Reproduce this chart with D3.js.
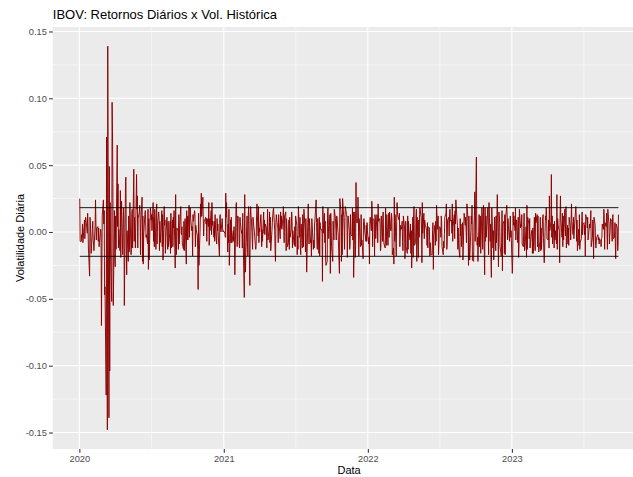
<!DOCTYPE html>
<html>
<head>
<meta charset="utf-8">
<script src="https://cdn.jsdelivr.net/npm/d3@7"></script>
<style>
  html, body { margin: 0; padding: 0; background: #fff; overflow: hidden; }
  svg { display: block; font-family: "Liberation Sans", Arial, sans-serif; }
</style>
</head>
<body>
<svg id="chart" width="633" height="477"></svg>
<script>
// IBOV daily returns, one value per weekday, grouped by calendar year
const ret2020 = [
  0.025,-0.007,
  -0.007,-0.002,-0.004,0.006,-0.008,
  0.004,0.009,-0.005,0.007,0.011,
  0.003,-0.001,0.014,0.006,-0.012,
  -0.033,0.011,0.007,-0.004,-0.016,
  0.002,0.008,-0.006,-0.009,-0.014,
  0.005,0.024,0.006,-0.006,0.003,
  0.004,-0.007,0.003,-0.011,-0.008,
  0.002,-0.001,-0.070,-0.026,0.012,
  0.024,0.006,0.016,-0.047,-0.041,
  -0.122,0.071,-0.076,-0.148,0.139,
  -0.139,0.049,-0.104,0.022,-0.012,
  -0.052,0.097,0.075,0.037,-0.055,
  0.016,-0.022,-0.026,0.012,-0.013,
  0.065,0.004,0.036,-0.012,0.002,
  -0.014,0.031,-0.019,0.006,0.023,
  -0.017,0.001,0.018,0.010,-0.055,
  0.038,0.041,-0.012,-0.032,0.001,
  -0.022,0.012,-0.015,-0.013,0.022,
  -0.017,-0.013,0.013,0.017,-0.012,
  0.047,-0.007,0.011,0.002,-0.012,
  0.043,0.017,0.027,-0.012,0.010,
  0.015,0.020,0.010,-0.017,0.008,
  0.026,-0.022,0.012,-0.024,-0.003,
  0.013,0.016,0.009,-0.004,-0.002,
  -0.009,0.017,-0.028,0.010,-0.021,
  0.018,0.015,0.009,0.013,0.001,
  0.022,-0.007,0.011,-0.011,0.017,
  -0.013,0.014,0.021,-0.009,0.005,
  0.015,0.011,-0.014,0.008,-0.008,
  0.007,0.016,-0.011,0.013,-0.021,
  0.019,0.005,0.009,-0.016,-0.004,
  0.011,-0.009,-0.013,0.008,-0.011,
  -0.001,0.008,-0.016,0.014,-0.012,
  0.009,-0.011,0.011,0.003,0.016,
  -0.027,0.028,-0.011,-0.017,0.003,
  0.001,-0.013,0.013,-0.009,0.003,
  0.019,-0.001,-0.002,0.004,-0.009,
  -0.013,0.008,-0.014,-0.002,0.010,
  -0.024,0.016,-0.006,0.012,-0.006,
  0.020,-0.004,0.009,0.018,0.010,
  0.001,0.004,-0.018,0.013,0.008,
  0.016,0.013,-0.011,0.005,0.002,
  -0.003,-0.014,-0.043,0.014,-0.025,
  0.002,0.021,0.011,0.029,0.012,
  0.026,0.010,-0.003,0.007,0.008,
  0.011,0.006,0.010,-0.007,0.010,
  0.004,0.022,-0.010,0.010,0.001,
  0.016,-0.002,0.022,0.005,0.008,
  -0.004,0.008,-0.007,0.013,0.002,
  -0.009,0.010,0.001,0.006,-0.003,
  -0.018,0.012,0.013,0.001,0.000,
  0.010,0.003,0.000,0.001
];

const ret2021 = [
  -0.001,-0.004,0.029,0.011,0.022,
  -0.015,0.006,-0.008,0.017,-0.025,
  0.009,-0.008,0.011,-0.008,-0.008,
  0.001,-0.007,0.004,-0.009,-0.032,
  0.020,0.022,0.006,-0.011,0.012,
  0.010,-0.009,-0.012,0.011,0.007,
  -0.001,0.001,-0.012,0.014,-0.006,
  -0.049,0.028,-0.011,-0.030,-0.015,
  0.012,-0.008,-0.018,0.012,0.019,
  -0.040,0.011,0.019,0.012,0.009,
  -0.013,0.011,0.008,0.004,0.002,
  -0.010,-0.013,-0.010,0.012,0.021,
  -0.003,0.019,-0.008,0.003,0.000,
  0.013,0.006,-0.011,0.002,-0.007,
  0.015,-0.001,0.009,-0.002,0.006,
  0.003,-0.012,0.001,0.017,-0.006,
  0.002,0.015,-0.008,0.011,-0.014,
  0.001,0.007,0.012,0.016,0.018,
  0.001,-0.013,-0.022,0.007,0.013,
  0.004,0.003,-0.008,0.013,0.007,
  -0.005,0.015,0.003,0.012,0.002,
  0.011,0.019,0.001,-0.008,0.012,
  0.015,-0.014,0.010,0.004,-0.011,
  -0.008,0.009,-0.013,0.011,-0.004,
  0.002,0.015,0.008,-0.012,0.001,
  -0.009,-0.010,0.004,-0.011,0.012,
  0.005,-0.017,-0.003,-0.013,0.019,
  -0.004,0.011,-0.012,-0.017,0.006,
  -0.012,0.013,0.006,-0.011,0.017,
  0.002,-0.015,0.010,-0.008,-0.030,
  0.009,0.021,0.004,-0.009,0.010,
  -0.008,-0.006,-0.018,0.010,0.005,
  -0.013,-0.006,-0.012,0.006,0.009,
  0.024,0.007,-0.008,-0.013,0.010,
  -0.016,0.011,-0.018,0.007,0.002,
  0.002,-0.001,-0.037,0.019,-0.001,
  0.014,-0.008,0.008,-0.021,-0.025,
  -0.022,0.015,0.018,0.005,-0.005,
  0.013,-0.031,0.014,0.006,-0.011,
  -0.022,0.008,0.001,-0.006,0.017,
  0.010,0.002,-0.006,0.012,0.011,
  -0.003,-0.014,-0.022,-0.031,0.025,
  0.015,-0.022,0.013,-0.017,0.025,
  0.011,0.001,-0.013,0.011,0.019,
  0.013,0.011,-0.019,0.002,0.012,
  0.001,-0.013,-0.010,0.013,-0.002,
  -0.003,0.018,-0.006,0.015,-0.034,
  0.015,-0.019,-0.011,0.037,0.007,
  0.007,0.026,0.012,-0.018,0.010,
  -0.011,-0.009,0.013,-0.010,-0.006,
  -0.020,0.006,0.010,0.008,0.001,
  -0.007,0.005,-0.007,0.007,0.001
];

const ret2022 = [
  -0.009,-0.004,-0.024,0.006,0.011,
  0.001,0.023,0.017,-0.011,0.010,
  0.009,-0.018,0.013,0.011,-0.005,
  0.013,0.011,-0.008,0.021,0.008,
  0.010,0.006,-0.014,-0.011,0.012,
  -0.007,0.013,0.015,-0.006,-0.009,
  -0.012,0.018,-0.008,-0.010,0.013,
  -0.010,0.003,0.014,-0.004,0.015,
  0.001,0.001,0.014,0.010,-0.017,
  -0.012,-0.024,0.026,-0.007,0.013,
  -0.018,0.008,0.022,0.015,0.012,
  0.009,0.014,-0.011,-0.003,0.005,
  0.002,0.008,-0.007,-0.014,0.012,
  0.003,-0.020,-0.012,0.008,-0.011,
  -0.016,0.012,-0.013,0.008,0.001,
  -0.006,0.006,-0.016,0.001,-0.027,
  0.011,-0.019,0.014,0.019,-0.010,
  -0.008,0.012,0.017,-0.022,0.011,
  -0.019,0.009,-0.004,0.013,0.018,
  0.011,0.002,-0.023,0.022,-0.001,
  0.014,-0.005,0.009,0.006,0.005,
  0.001,-0.010,0.007,-0.012,0.004,
  0.003,-0.018,-0.008,-0.012,-0.017,
  -0.017,0.001,0.007,-0.028,-0.003,
  0.005,-0.010,0.008,-0.007,0.020,
  0.002,0.012,-0.017,-0.011,0.004,
  0.003,-0.004,0.012,0.008,-0.011,
  -0.017,-0.007,-0.012,-0.002,0.011,
  0.014,0.021,-0.013,-0.009,0.009,
  0.011,-0.003,0.012,0.017,0.008,
  0.009,-0.001,0.021,-0.007,0.004,
  0.013,-0.005,0.016,0.006,0.024,
  0.009,0.005,-0.013,0.003,-0.010,
  -0.019,0.010,-0.003,0.006,-0.011,
  0.007,-0.021,-0.010,0.004,0.014,
  0.005,0.011,0.001,-0.008,0.021,
  0.008,-0.025,0.012,-0.008,-0.021,
  0.001,0.012,0.006,0.020,-0.021,
  -0.022,0.006,0.012,0.030,-0.007,
  0.056,0.001,-0.010,-0.004,-0.022,
  0.013,-0.011,0.001,0.012,-0.016,
  0.018,0.011,-0.013,0.008,0.020,
  -0.032,0.018,-0.007,0.012,-0.004,
  0.013,0.018,0.001,-0.017,0.022,
  -0.007,0.006,-0.021,-0.034,0.018,
  -0.012,0.001,-0.021,-0.006,0.011,
  -0.014,0.012,-0.008,0.013,0.028,
  -0.026,0.015,0.012,0.007,-0.011,
  -0.018,-0.008,0.016,-0.029,0.006,
  0.008,-0.016,0.013,-0.017,0.010,
  0.020,0.012,-0.006,0.010,0.005,
  -0.007,0.004,0.012,-0.004,0.001
];

const ret2023 = [
  -0.031,-0.021,0.015,0.005,0.012,
  0.001,0.018,-0.006,0.007,0.009,
  -0.008,0.011,-0.019,-0.010,0.017,
  0.003,0.006,0.004,0.013,-0.009,
  -0.011,0.004,0.014,-0.014,-0.012,
  0.004,-0.019,0.020,-0.013,0.011,
  0.006,-0.005,0.010,-0.012,-0.008,
  0.001,0.001,-0.016,0.003,-0.016,
  0.011,-0.008,-0.014,0.014,0.007,
  0.013,-0.011,0.012,-0.009,-0.015,
  -0.007,0.011,-0.014,0.003,-0.013,
  0.011,0.013,-0.004,-0.016,-0.023,
  0.012,0.009,0.018,0.011,-0.005,
  -0.006,0.009,-0.012,0.027,0.001,
  0.008,0.043,-0.004,0.012,-0.009,
  0.006,-0.012,0.008,-0.006,0.001,
  -0.009,0.028,-0.013,0.010,0.005,
  0.001,-0.023,0.010,0.027,0.009,
  -0.004,0.014,-0.011,0.012,-0.006,
  0.017,0.007,-0.003,0.019,-0.012,
  0.005,-0.009,0.003,-0.010,0.011,
  0.004,-0.006,0.009,0.021,0.008,
  -0.002,0.011,-0.005,0.001,0.006,
  0.019,0.012,-0.007,0.009,-0.014,
  0.002,-0.010,0.013,-0.013,-0.008,
  -0.005,0.008,0.015,-0.002,0.006,
  0.007,-0.002,0.005,-0.018,0.013,
  0.009,0.003,0.011,-0.006,-0.003,
  0.006,0.003,0.008,0.016,-0.011,
  -0.004,0.009,0.002,-0.020,0.011,
  0.005,-0.010,-0.012,-0.006,-0.004,
  -0.002,-0.006,-0.004,-0.009,-0.005,
  -0.007,-0.011,-0.005,-0.004,0.006,
  0.002,0.017,0.009,-0.013,0.007,
  0.004,0.014,-0.001,-0.013,0.017,
  0.006,-0.009,-0.003,0.001,0.010,
  0.008,-0.007,0.011,0.013,-0.005,
  -0.004,0.007,-0.008,-0.020,0.006,
  0.003,-0.014,-0.010,0.013
];

// first weekday of each yearly block
const yearStarts = ["2020-01-02", "2021-01-04", "2022-01-03", "2023-01-02"];
// historical daily volatility band (±)
const histVol = 0.0182;

const yTickValues = [-0.15, -0.10, -0.05, 0.00, 0.05, 0.10, 0.15];
const yTickLabels = ["-0.15", "-0.10", "-0.05", "0.00", "0.05", "0.10", "0.15"];
const xTickYears = ["2020", "2021", "2022", "2023"];

const titleText = "IBOV: Retornos Diários x Vol. Histórica";
const xTitle = "Data";
const yTitle = "Volatilidade Diária";

// ---- assemble the series: each value sits on consecutive weekdays ----
function weekdays(startISO, n) {
  const out = [];
  let d = new Date(startISO + "T00:00:00Z");
  while (out.length < n) {
    const dow = d.getUTCDay();
    if (dow !== 0 && dow !== 6) out.push(d);
    d = d3.utcDay.offset(d, 1);
  }
  return out;
}
const blocks = [ret2020, ret2021, ret2022, ret2023];
const series = [];
blocks.forEach((vals, i) => {
  const dates = weekdays(yearStarts[i], vals.length);
  vals.forEach((v, j) => series.push({ date: dates[j], value: v }));
});

// ---- layout ----
const svg = d3.select("#chart");
const panel = { left: 52.8, right: 645.4, top: 27, bottom: 449 };

const t0 = series[0].date, t1 = series[series.length - 1].date;
const span = t1 - t0;
const x = d3.scaleUtc()
  .domain([new Date(+t0 - 0.05 * span), new Date(+t1 + 0.05 * span)])
  .range([panel.left, panel.right]);

const [vMin, vMax] = d3.extent(series, d => d.value);
const vPad = 0.05 * (vMax - vMin);
const y = d3.scaleLinear()
  .domain([vMin - vPad, vMax + vPad])
  .range([panel.bottom, panel.top]);

// panel background
svg.append("rect")
  .attr("x", panel.left).attr("y", panel.top)
  .attr("width", panel.right - panel.left)
  .attr("height", panel.bottom - panel.top)
  .attr("fill", "#EBEBEB");

const grid = svg.append("g");
// minor y grid at midpoints between major ticks
const yMinor = d3.pairs(yTickValues).map(([a, b]) => (a + b) / 2);
grid.selectAll(".ymin").data(yMinor).join("line")
  .attr("x1", panel.left).attr("x2", panel.right)
  .attr("y1", d => y(d)).attr("y2", d => y(d))
  .attr("stroke", "#fff").attr("stroke-width", 0.55);

// x grid: year starts (major) and mid-year (minor)
const yearDates = xTickYears.map(s => new Date(s + "-01-01T00:00:00Z"));
const nextYear = d3.utcYear.offset(yearDates[yearDates.length - 1], 1);
const xMinor = d3.pairs(yearDates.concat([nextYear])).map(([a, b]) => new Date((+a + +b) / 2));
grid.selectAll(".xmin").data(xMinor).join("line")
  .attr("x1", d => x(d)).attr("x2", d => x(d))
  .attr("y1", panel.top).attr("y2", panel.bottom)
  .attr("stroke", "#fff").attr("stroke-width", 0.55);

grid.selectAll(".ymaj").data(yTickValues).join("line")
  .attr("x1", panel.left).attr("x2", panel.right)
  .attr("y1", d => y(d)).attr("y2", d => y(d))
  .attr("stroke", "#fff").attr("stroke-width", 1.07);
grid.selectAll(".xmaj").data(yearDates).join("line")
  .attr("x1", d => x(d)).attr("x2", d => x(d))
  .attr("y1", panel.top).attr("y2", panel.bottom)
  .attr("stroke", "#fff").attr("stroke-width", 1.07);

// daily returns
const line = d3.line().x(d => x(d.date)).y(d => y(d.value));
svg.append("path")
  .datum(series)
  .attr("d", line)
  .attr("fill", "none")
  .attr("stroke", "#8B0000")
  .attr("stroke-width", 0.95)
  .attr("stroke-linejoin", "round");

// historical volatility band
svg.selectAll(".band").data([histVol, -histVol]).join("line")
  .attr("x1", x(t0)).attr("x2", x(t1))
  .attr("y1", d => y(d)).attr("y2", d => y(d))
  .attr("stroke", "#000").attr("stroke-width", 0.9);

// axes
const yAxis = d3.axisLeft(y)
  .tickValues(yTickValues)
  .tickFormat((d, i) => yTickLabels[i])
  .tickSizeInner(3.7).tickSizeOuter(0).tickPadding(2.2);
const gy = svg.append("g").attr("transform", `translate(${panel.left},0)`).call(yAxis);

const xAxis = d3.axisBottom(x)
  .tickValues(yearDates)
  .tickFormat((d, i) => xTickYears[i])
  .tickSizeInner(3.7).tickSizeOuter(0).tickPadding(2.2);
const gx = svg.append("g").attr("transform", `translate(0,${panel.bottom})`).call(xAxis);

[gx, gy].forEach(g => {
  g.select(".domain").remove();
  g.selectAll(".tick line").attr("stroke", "#333").attr("stroke-width", 1.07);
  g.selectAll(".tick text")
    .attr("fill", "#4D4D4D")
    .style("font-size", "9.3px")
    .style("font-family", "'Liberation Sans', Arial, sans-serif");
});

// titles
svg.append("text")
  .attr("x", panel.left).attr("y", 19)
  .attr("fill", "#000")
  .style("font-size", "13px")
  .text(titleText);

svg.append("text")
  .attr("x", (panel.left + panel.right) / 2).attr("y", 474)
  .attr("text-anchor", "middle")
  .attr("fill", "#000")
  .style("font-size", "11px")
  .text(xTitle);

svg.append("text")
  .attr("transform", `translate(24,${(panel.top + panel.bottom) / 2}) rotate(-90)`)
  .attr("text-anchor", "middle")
  .attr("fill", "#000")
  .style("font-size", "11px")
  .text(yTitle);
</script>
</body>
</html>
